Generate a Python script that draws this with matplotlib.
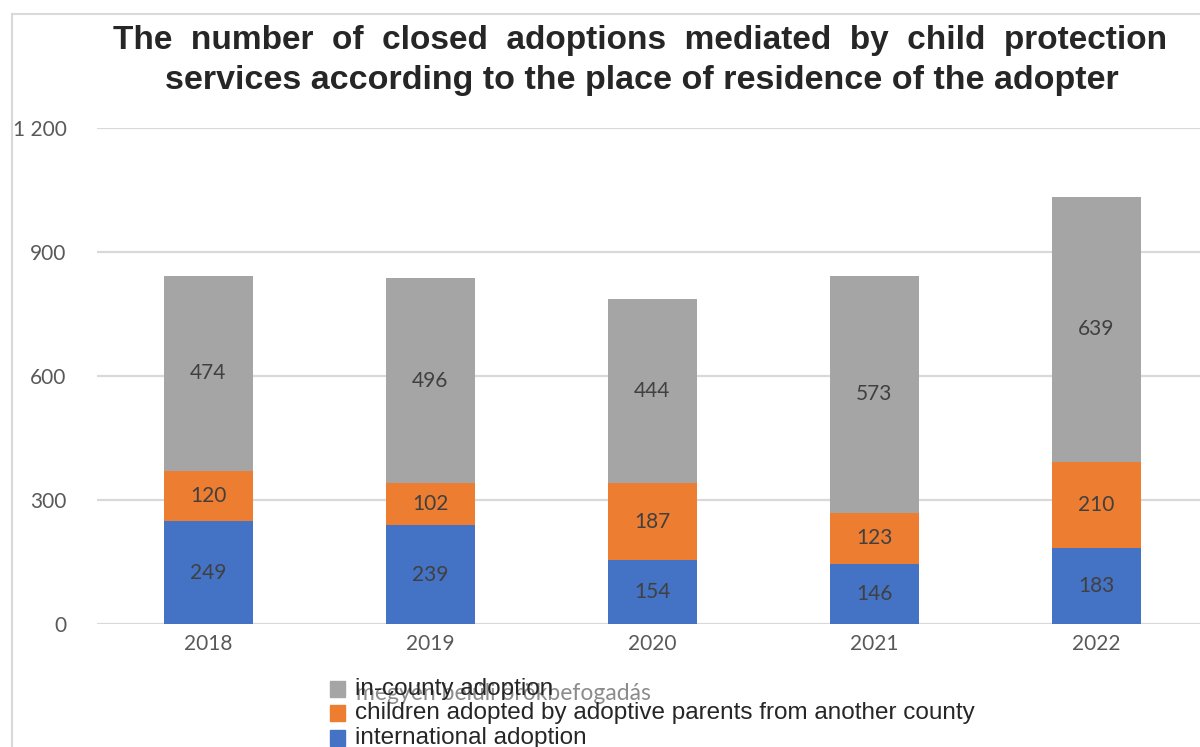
import matplotlib.pyplot as plt
from matplotlib.lines import Line2D
from matplotlib.patches import Rectangle

years = ['2018', '2019', '2020', '2021', '2022']
international = [249, 239, 154, 146, 183]
other_county = [120, 102, 187, 123, 210]
in_county = [474, 496, 444, 573, 639]

series = [
    ('international adoption', international, '#4472C4'),
    ('children adopted by adoptive parents from another county', other_county, '#ED7D31'),
    ('in-county adoption', in_county, '#A5A5A5'),
]
yticks = [0, 300, 600, 900, 1200]
ytick_labels = ['0', '300', '600', '900', '1 200']

fig = plt.figure(figsize=(12, 7.47), dpi=100)
ax = fig.add_axes([0.081, 0.1647, 0.925, 0.664])

x = range(len(years))
bottom = [0] * len(years)
for name, vals, col in series:
    bars = ax.bar(x, vals, width=0.4, bottom=bottom, color=col, zorder=2)
    for b, v in zip(bars, vals):
        ax.text(b.get_x() + b.get_width() / 2, b.get_y() + b.get_height() / 2, str(v),
                ha='center', va='center', fontsize=15, color='#404040', family='Lato')
    bottom = [a + b for a, b in zip(bottom, vals)]

ax.set_xlim(-0.5, 4.5)
ax.set_ylim(0, 1200)
ax.set_yticks(yticks)
ax.set_yticklabels(ytick_labels)
ax.set_xticks(list(x))
ax.set_xticklabels(years)
for lab in ax.get_xticklabels() + ax.get_yticklabels():
    lab.set_family('Lato')
    lab.set_fontsize(15)
    lab.set_color('#595959')
ax.tick_params(length=0)
ax.tick_params(axis='y', pad=22)
ax.tick_params(axis='x', pad=7)
ax.grid(axis='y', color='#d9d9d9', linewidth=1.6, zorder=0)
ax.set_axisbelow(True)
for s in ax.spines.values():
    s.set_visible(False)

# outer frame of the chart area
fig.add_artist(Line2D([12 / 1200, 12 / 1200], [0, 1 - 14 / 747], color='#d9d9d9', lw=1.5))
fig.add_artist(Line2D([12 / 1200, 1], [1 - 14 / 747, 1 - 14 / 747], color='#d9d9d9', lw=1.5))

fig.text(640 / 1200, 1 - 41 / 747, 'The  number  of  closed  adoptions  mediated  by  child  protection',
         ha='center', va='center', fontsize=24, fontweight='bold', family='Liberation Sans',
         color='#262626')
fig.text(642 / 1200, 1 - 81 / 747, 'services according to the place of residence of the adopter',
         ha='center', va='center', fontsize=24.5, fontweight='bold', family='Liberation Sans',
         color='#262626')

# legend, drawn by hand below the plot
rows = [689, 713, 738]
fig.text(356 / 1200, 1 - 693 / 747, 'megyén belüli örökbefogadás', ha='left', va='center',
         fontsize=16.5, family='Lato', color='#8c8c8c', zorder=0)
for (name, vals, col), y in zip(series[::-1], rows):
    fig.add_artist(Rectangle((330 / 1200, 1 - (y + 8) / 747), 15 / 1200, 16 / 747,
                             color=col, transform=fig.transFigure))
    fig.text(355 / 1200, 1 - y / 747, name, ha='left', va='center', fontsize=17.5,
             family='Liberation Sans', color='#262626')

fig.savefig('out.png', dpi=100, facecolor='white')
